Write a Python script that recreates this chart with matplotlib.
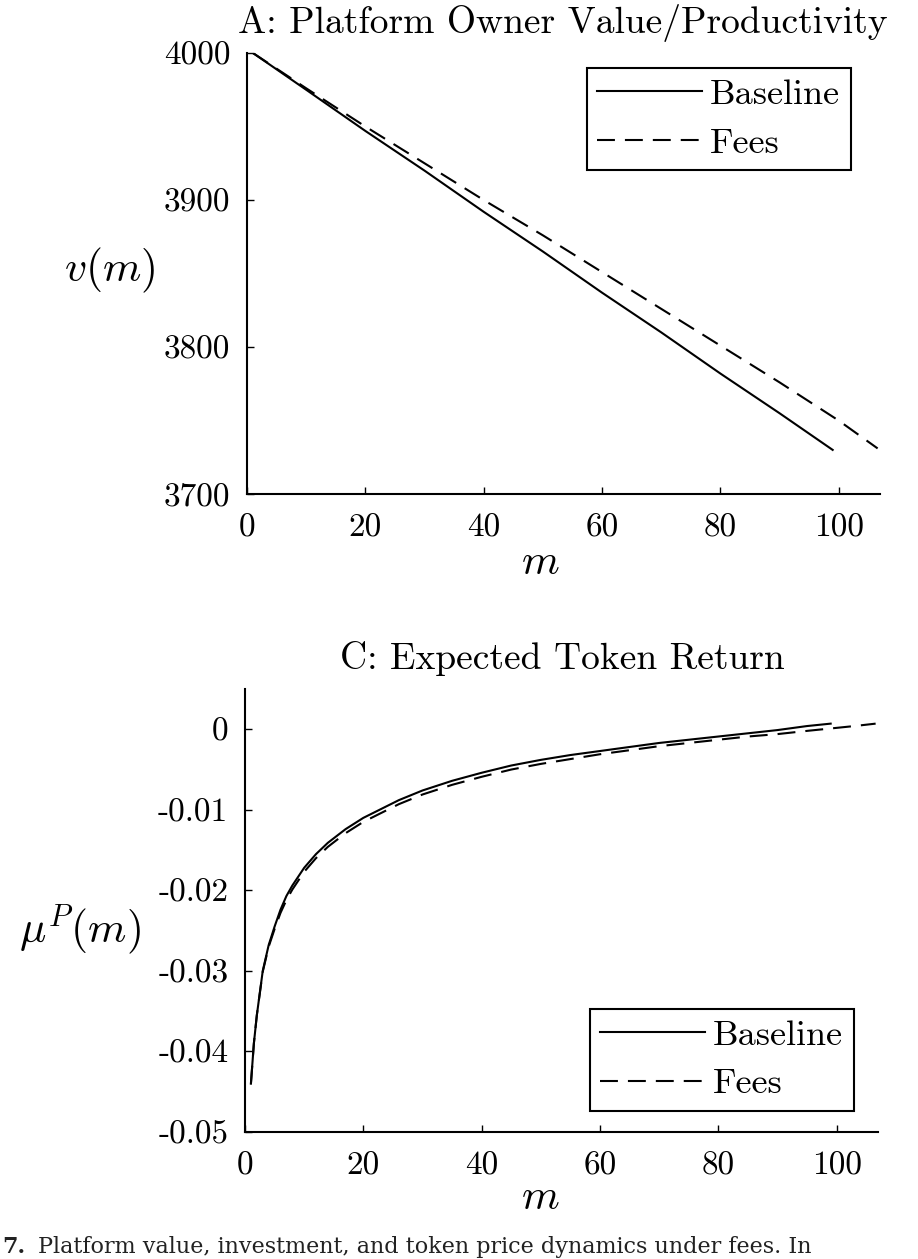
import matplotlib
matplotlib.use("Agg")
import matplotlib.pyplot as plt

plt.rcParams['font.family'] = 'serif'
plt.rcParams['font.serif'] = ['cmr10']
plt.rcParams['mathtext.fontset'] = 'cm'
plt.rcParams['axes.unicode_minus'] = False
plt.rcParams['axes.formatter.use_mathtext'] = True

# ---------------- data ----------------
# Panel A: platform owner value
m_base_A = [1, 10, 20, 30, 40, 50, 60, 70, 80, 90, 99]
v_base_A = [4000, 3975, 3947, 3920, 3892, 3865, 3837, 3810, 3782, 3755, 3730]
m_fees_A = [1, 10, 20, 30, 40, 50, 60, 70, 80, 90, 100, 106.6]
v_fees_A = [4000, 3976, 3950, 3925, 3900, 3876, 3851, 3826, 3801, 3776, 3750, 3731]

# Panel C: expected token return
m_base_C = [1, 1.5, 2, 3, 4, 5, 6, 7, 8, 10, 12, 14, 17, 20, 23, 26, 30, 35,
            40, 45, 50, 55, 60, 65, 70, 75, 80, 85, 90, 95, 99]
mu_base_C = [-0.0440, -0.0390, -0.0355, -0.0300, -0.0268, -0.0245, -0.0224,
             -0.0207, -0.0194, -0.0172, -0.0155, -0.0141, -0.0124, -0.0110,
             -0.0099, -0.0088, -0.0076, -0.0064, -0.0054, -0.0045, -0.0038,
             -0.0032, -0.0027, -0.0022, -0.0017, -0.0013, -0.0009, -0.0005,
             -0.0001, 0.0004, 0.0007]
m_fees_C = [1, 1.5, 2, 3, 4, 5, 6, 7, 8, 10, 12, 14, 17, 20, 23, 26, 30, 35,
            40, 45, 50, 55, 60, 65, 70, 75, 80, 85, 90, 95, 99, 103, 106.6]
mu_fees_C = [-0.0440, -0.0390, -0.0355, -0.0301, -0.0270, -0.0248, -0.0228,
             -0.0212, -0.0199, -0.0177, -0.0160, -0.0146, -0.0129, -0.0115,
             -0.0104, -0.0093, -0.0081, -0.0069, -0.0059, -0.0050, -0.0043,
             -0.0037, -0.0031, -0.0026, -0.0021, -0.0017, -0.0013, -0.0009,
             -0.0006, -0.0002, 0.0001, 0.0004, 0.0007]

xticks = [0, 20, 40, 60, 80, 100]
xticklabels = ['0', '20', '40', '60', '80', '100']
yticks_A = [3700, 3800, 3900, 4000]
yticklabels_A = ['3700', '3800', '3900', '4000']
yticks_C = [-0.05, -0.04, -0.03, -0.02, -0.01, 0]
yticklabels_C = ['-0.05', '-0.04', '-0.03', '-0.02', '-0.01', '0']

legend_labels = ['Baseline', 'Fees']
title_A = 'A: Platform Owner Value/Productivity'
title_C = 'C: Expected Token Return'
caption_num = '7.'
caption_text = 'Platform value, investment, and token price dynamics under fees. In'

# ---------------- figure ----------------
W, H = 918, 1259
fig = plt.figure(figsize=(W / 100, H / 100), dpi=100)

def px_axes(left, right, top, bottom):
    return fig.add_axes([left / W, 1 - bottom / H, (right - left) / W, (bottom - top) / H])

axA = px_axes(247, 880, 53, 494)
axC = px_axes(245, 878, 689, 1132)

LW = 1.5
DASH = (0, (8.6, 4.8))
TICKFS = 24
LEGFS = 26

def style(ax):
    for s in ['top', 'right']:
        ax.spines[s].set_visible(False)
    for s in ['left', 'bottom']:
        ax.spines[s].set_linewidth(1.5)
    ax.tick_params(direction='in', length=5, width=1.0, labelsize=TICKFS)
    ax.tick_params(axis='x', pad=14)
    ax.tick_params(axis='y', pad=12)
    ax.set_xlim(0, 107)
    ax.set_xticks(xticks)
    ax.set_xticklabels(xticklabels)

def legend(ax, loc, anchor):
    leg = ax.legend(loc=loc, bbox_to_anchor=anchor, fontsize=LEGFS,
                    frameon=True, fancybox=False, edgecolor='black', framealpha=1,
                    handlelength=2.9, handletextpad=0.22, labelspacing=0.45,
                    borderpad=0.3, borderaxespad=0)
    leg.get_frame().set_linewidth(1.5)
    return leg

# Panel A
axA.plot(m_base_A, v_base_A, color='black', lw=LW, label=legend_labels[0])
axA.plot(m_fees_A, v_fees_A, color='black', lw=LW, linestyle=DASH, label=legend_labels[1])
style(axA)
axA.set_ylim(3700, 4000)
axA.set_yticks(yticks_A)
axA.set_yticklabels(yticklabels_A)
axA.set_xlabel(r'$m$', fontsize=31)
axA.xaxis.set_label_coords(0.464, -0.156)
axA.xaxis.label.set_va('center')
axA.set_ylabel(r'$v(m)$', fontsize=31.5, rotation=0, ha='center', va='center')
axA.yaxis.set_label_coords(-0.2164, 0.508)
legend(axA, 'upper right', (0.954, 0.966))

# Panel C
axC.plot(m_base_C, mu_base_C, color='black', lw=LW, label=legend_labels[0])
axC.plot(m_fees_C, mu_fees_C, color='black', lw=LW, linestyle=DASH, label=legend_labels[1])
style(axC)
axC.set_ylim(-0.05, 0.005)
axC.set_yticks(yticks_C)
axC.set_yticklabels(yticklabels_C)
axC.set_xlabel(r'$m$', fontsize=31)
axC.xaxis.set_label_coords(0.466, -0.149)
axC.xaxis.label.set_va('center')
axC.set_ylabel(r'$\mu^P(m)$', fontsize=31.5, rotation=0, ha='center', va='center')
axC.yaxis.set_label_coords(-0.261, 0.456)
legend(axC, 'lower right', (0.962, 0.047))

# Titles
fig.text(563 / W, 1 - 33 / H, title_A, fontsize=27, ha='center', va='baseline')
fig.text(562 / W, 1 - 669 / H, title_C, fontsize=27, ha='center', va='baseline')

# Caption fragment at the bottom edge
fig.text(2 / W, 1 - 1253 / H, caption_num, fontsize=16, family='DejaVu Serif',
         weight='bold', ha='left', va='baseline', color='#222222')
fig.text(38 / W, 1 - 1253 / H, caption_text,
         fontsize=16, family='DejaVu Serif', ha='left', va='baseline', color='#222222')

fig.savefig('out.png', dpi=100)
